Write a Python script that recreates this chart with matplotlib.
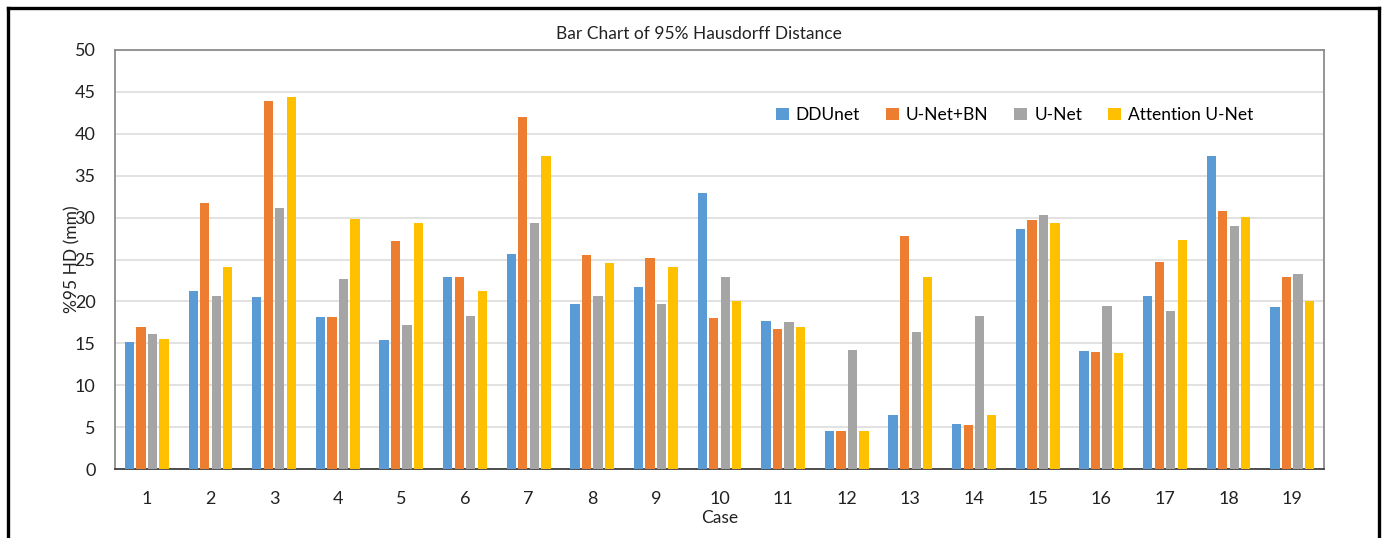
#!/usr/local/bin/python3
## Bar chart of 95% Hausdorff distance per case
##

import numpy as np
import matplotlib
matplotlib.use("Agg")
import matplotlib.pyplot as plt
from matplotlib.lines import Line2D

cases = [str(i) for i in range(1, 20)];
methods = ["DDUnet", "U-Net+BN", "U-Net", "Attention U-Net"];

ddunet = [15.2, 21.3, 20.5, 18.1, 15.4, 22.9, 25.7, 19.7, 21.7, 32.9,
          17.7, 4.5, 6.4, 5.4, 28.6, 14.1, 20.7, 37.4, 19.3];
unet_bn = [16.9, 31.8, 43.9, 18.1, 27.2, 22.9, 42.0, 25.5, 25.2, 18.0,
           16.7, 4.5, 27.8, 5.25, 29.7, 14.0, 24.7, 30.8, 22.9];
unet = [16.1, 20.6, 31.2, 22.7, 17.2, 18.3, 29.3, 20.7, 19.7, 22.9,
        17.6, 14.2, 16.3, 18.2, 30.3, 19.45, 18.9, 28.95, 23.3];
attention_unet = [15.55, 24.1, 44.4, 29.8, 29.3, 21.3, 37.4, 24.6, 24.1, 20.05,
                  16.9, 4.5, 22.9, 6.4, 29.3, 13.8, 27.3, 30.1, 20.05];

colors = ["#5B9BD5", "#ED7D31", "#A5A5A5", "#FFC000"];

W, H = 1388, 538;

def drawFrame(fig):
    # black border round the picture (no bottom edge visible)
    lw = 2.4;
    fig.add_artist(Line2D([8 / W, 8 / W], [0, 1 - 8 / H], color="black", lw=lw));
    fig.add_artist(Line2D([8 / W, 1379 / W], [1 - 8 / H, 1 - 8 / H], color="black", lw=lw));
    fig.add_artist(Line2D([1379 / W, 1379 / W], [0, 1 - 8 / H], color="black", lw=lw));

def createBarChart(filename):
    plt.rcParams['font.family'] = ['Lato', 'DejaVu Sans'];
    fig = plt.figure(figsize=(W / 100, H / 100), dpi=100);
    ax = fig.add_axes([115 / W, 1 - 469 / H, (1324 - 115) / W, (469 - 50) / H]);

    series = [ddunet, unet_bn, unet, attention_unet];
    x = np.arange(len(cases));
    pitch = 0.181;
    width = 0.146;
    for i, vals in enumerate(series):
        ax.bar(x + (i - 1.5) * pitch, vals, width, color=colors[i],
               label=methods[i], zorder=3);

    ax.set_xlim(-0.5, len(cases) - 0.5);
    ax.set_ylim(0, 50);
    ax.set_yticks(np.arange(0, 51, 5));
    ax.set_xticks(x);
    ax.set_xticklabels(cases);
    ax.tick_params(axis='both', length=0, labelsize=13, colors="#222222");
    ax.tick_params(axis='x', pad=16);
    ax.tick_params(axis='y', pad=14);
    ax.yaxis.grid(True, color="#dddddd", lw=1.2, zorder=0);
    for side in ["top", "right", "left"]:
        ax.spines[side].set_color("#8c8c8c");
        ax.spines[side].set_linewidth(1.3);
    ax.spines["bottom"].set_color("#404040");
    ax.spines["bottom"].set_linewidth(1.3);

    ax.set_xlabel("Case", fontsize=12.5, color="#222222", labelpad=2);
    ax.set_ylabel("%95 HD (mm)", fontsize=12.5, color="#222222");
    ax.yaxis.set_label_coords(-0.029, 0.5);  # sits over the tick labels, like the original

    fig.text(699 / W, 1 - 34 / H, "Bar Chart of 95% Hausdorff Distance",
             ha="center", va="center", fontsize=12.5, color="#222222");

    ax.legend(loc="center", bbox_to_anchor=(0.744, 0.845), ncol=4, frameon=False,
              fontsize=12.5, handlelength=0.75, handleheight=0.75,
              handletextpad=0.4, columnspacing=1.5);

    drawFrame(fig);
    fig.savefig(filename, dpi=100);

def main():
    createBarChart("out.png");

if __name__ == "__main__":
    main();
